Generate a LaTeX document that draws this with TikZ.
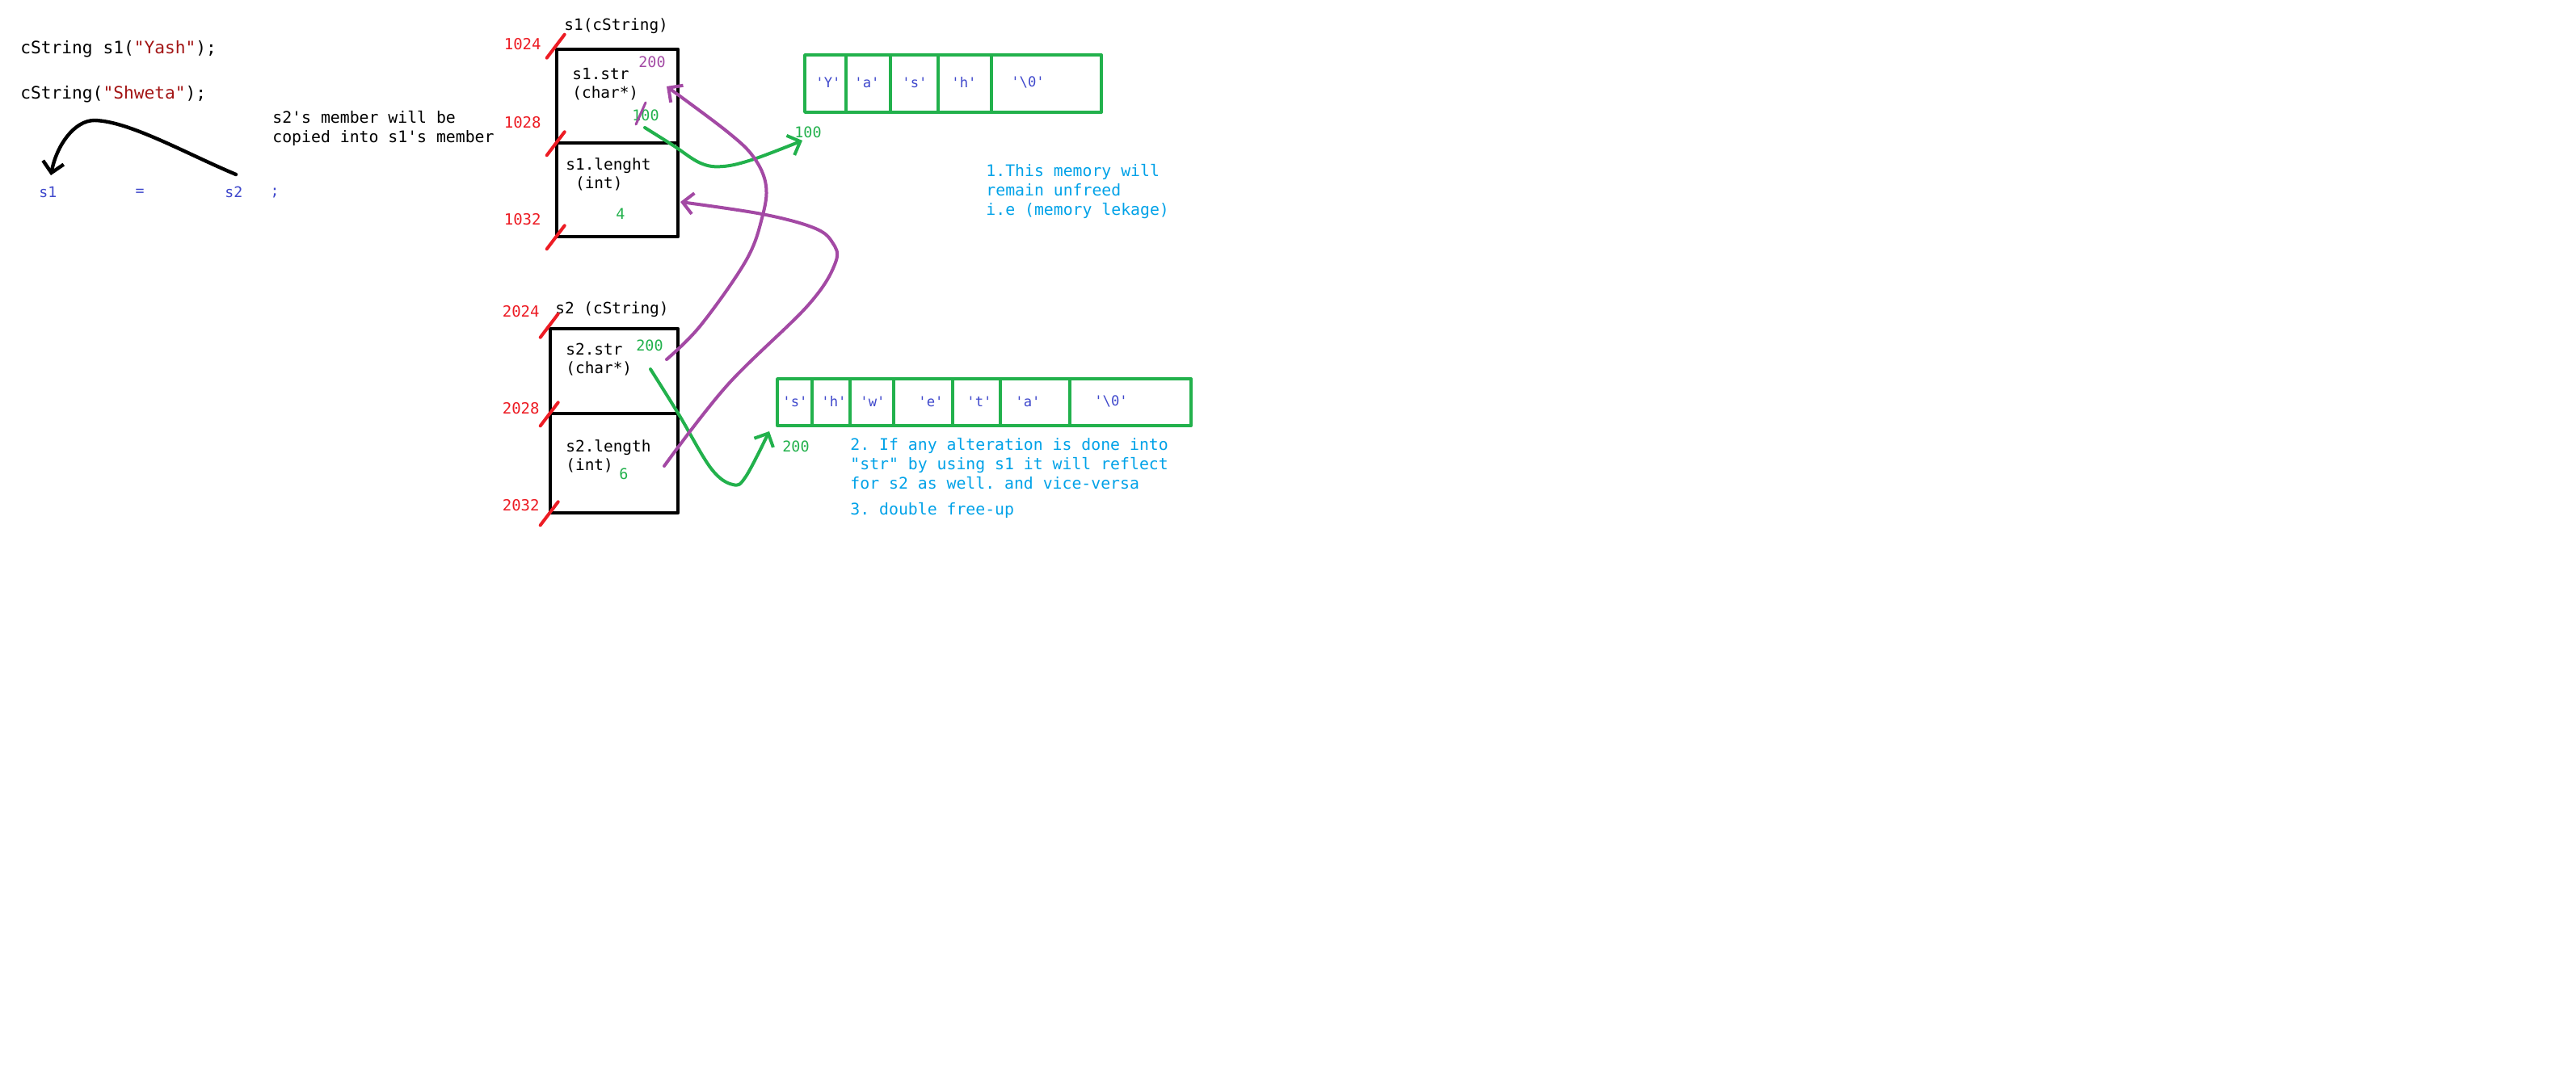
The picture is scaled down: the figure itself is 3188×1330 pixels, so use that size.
\documentclass[tikz,border=0pt]{standalone}
\usepackage{fontspec}
\setmonofont{DejaVu Sans Mono}
\usetikzlibrary{arrows.meta}

\definecolor{pgreen}{HTML}{22B14C}
\definecolor{ppurple}{HTML}{A349A4}
\definecolor{pred}{HTML}{ED1C24}
\definecolor{pblue}{HTML}{00A2E8}
\definecolor{cblue}{HTML}{3F48CC}
\definecolor{strred}{HTML}{A31515}

% little red mark across a box corner, next to its address
\newcommand\memtick[1]{\draw[addrtick] ([shift={(-10,13)}]#1) -- ([shift={(12,-16)}]#1);}

\begin{document}
\begin{tikzpicture}[x=0.5pt, y=-0.5pt, line cap=round, line join=round,
  every node/.style={inner sep=0pt, font=\ttfamily\fontsize{9.7}{11.8}\selectfont},
  membox/.style={draw, line width=2.3pt},
  cell/.style={draw=pgreen, line width=1.9pt},
  code/.style={font=\ttfamily\fontsize{10.6}{13}\selectfont},
  lbl/.style={},
  addr/.style={pred, font=\ttfamily\fontsize{9.5}{11}\selectfont},
  grn/.style={pgreen, font=\ttfamily\fontsize{9.2}{11}\selectfont},
  prp/.style={ppurple, font=\ttfamily\fontsize{9.2}{11}\selectfont},
  chr/.style={cblue, font=\ttfamily\fontsize{8.6}{10}\selectfont},
  var/.style={cblue, font=\ttfamily\fontsize{9.1}{11}\selectfont},
  note/.style={pblue, align=left, font=\ttfamily\fontsize{9.9}{12}\selectfont},
  addrtick/.style={pred, line width=2pt},
  garrow/.style={pgreen, line width=2pt, -{Straight Barb[length=6.5pt,width=13pt]}},
  parrow/.style={ppurple, line width=2pt, -{Straight Barb[length=6.5pt,width=13pt]}}]

  \path[use as bounding box, fill=white] (0,0) rectangle (3188,1330);

  % the code
  \node (code1) [code, anchor=west] at (25,61) {cString s1(\textcolor{strred}{"Yash"});};
  \node (code2) [code, anchor=west] at (25,117) {cString(\textcolor{strred}{"Shweta"});};
  \node (copytxt) [lbl, anchor=west, align=left, font=\ttfamily\fontsize{9.9}{12}\selectfont]
    at (337,159) {s2's member will be\\copied into s1's member};
  \node (v1) [var, anchor=west] at (48,238) {s1};
  \node (veq) [var] at (173,238) {=};
  \node (v2) [var, anchor=west] at (278,238) {s2};
  \node (vend) [var] at (340,239) {;};
  \coordinate (cpfrom) at (292,216);
  \coordinate (cptop) at (117,149);
  \coordinate (cpto) at (63,217);
  \draw[line width=2.2pt, -{Straight Barb[length=6.5pt,width=13pt]}]
    (cpfrom) .. controls (230,190) and (160,150) .. (cptop)
             .. controls (92,149) and (70,180) .. (cpto);

  % s1 in memory
  \node (s1name) [lbl, anchor=west] at (698,32) {s1(cString)};
  \node (s1str) [membox, minimum width=75pt, minimum height=58pt] at (764,119) {};
  \node (s1len) [membox, minimum width=75pt, minimum height=58pt] at (764,235) {};
  \node (a1024) [addr, anchor=east] at (670,55) {1024};
  \node (a1028) [addr, anchor=east] at (670,152) {1028};
  \node (a1032) [addr, anchor=east] at (670,272) {1032};
  \memtick{s1str.north west}
  \memtick{s1str.south west}
  \memtick{s1len.south west}
  \node (s1strlbl) [lbl, anchor=west, align=left] at (708,104) {s1.str\\(char*)};
  \node (s1old) [prp, anchor=west] at (790,77) {200};
  \node (s1ptr) [grn, anchor=west] at (782,143) {100};
  \draw[ppurple, line width=1.5pt] ([shift={(5,11)}]s1ptr.west) -- ([shift={(17,-16)}]s1ptr.west);
  \node (s1lenlbl) [lbl, anchor=west, align=left] at (700,216) {s1.lenght\\\ (int)};
  \node (s1num) [grn] at (768,265) {4};

  % s2 in memory
  \node (s2name) [lbl, anchor=west] at (687,383) {s2 (cString)};
  \node (s2str) [membox, minimum width=79pt, minimum height=52.5pt] at (760,459.5) {};
  \node (s2len) [membox, minimum width=79pt, minimum height=61.5pt] at (760,573.5) {};
  \node (a2024) [addr, anchor=east] at (668,386) {2024};
  \node (a2028) [addr, anchor=east] at (668,506) {2028};
  \node (a2032) [addr, anchor=east] at (668,626) {2032};
  \memtick{s2str.north west}
  \memtick{s2str.south west}
  \memtick{s2len.south west}
  \node (s2strlbl) [lbl, anchor=west, align=left] at (700,445) {s2.str\\(char*)};
  \node (s2ptr) [grn, anchor=west] at (787,428) {200};
  \node (s2lenlbl) [lbl, anchor=west, align=left] at (700,565) {s2.length\\(int)};
  \node (s2num) [grn] at (772,587) {6};

  % the two char arrays
  \foreach \lx/\rx/\tx/\ch [count=\i] in {996/1047/1025/Y, 1047/1102/1073/a, 1102/1161/1132/s,
      1161/1227/1193/h, 1227/1363/1272/\textbackslash 0} {
    \node (ya\i) [cell, minimum width={(\rx-\lx)*0.5pt}, minimum height=35.5pt] at ({(\lx+\rx)/2},103.5) {};
    \node (yc\i) [chr] at (\tx,102) {'\ch'};
  }
  \foreach \lx/\rx/\tx/\ch [count=\i] in {962/1005/984/s, 1005/1052/1032/h, 1052/1106/1080/w,
      1106/1179/1152/e, 1179/1238/1212/t, 1238/1324/1272/a, 1324/1474/1375/\textbackslash 0} {
    \node (sa\i) [cell, minimum width={(\rx-\lx)*0.5pt}, minimum height=29pt] at ({(\lx+\rx)/2},498) {};
    \node (sc\i) [chr] at (\tx,497) {'\ch'};
  }
  \node (ya100) [grn, anchor=west] at (983,164) {100};
  \node (sa200) [grn, anchor=west] at (968,553) {200};

  % pointers
  \coordinate (s1out) at (798,158);
  \coordinate (yashtip) at (993,174);
  \coordinate (s2out) at (805,457);
  \coordinate (shwtip) at (952,534);
  \coordinate (s2sfrom) at (825,445);
  \coordinate (s1sto) at (825,107);
  \coordinate (s2lfrom) at (822,577);
  \coordinate (s1lto) at (842,250);
  \draw[garrow] plot[smooth, tension=0.6] coordinates {(s1out) (833,180) (867,202) (895,206) (933,197) (yashtip)};
  \draw[garrow] plot[smooth, tension=0.6] coordinates {(s2out) (840,513) (880,580) (907,600) (923,590) (shwtip)};
  \draw[parrow] plot[smooth, tension=0.6] coordinates {(s2sfrom) (867,403) (923,323) (943,270) (948,230) (933,195) (900,163) (s1sto)};
  \draw[parrow] plot[smooth, tension=0.6] coordinates {(s2lfrom) (900,477) (1000,378) (1034,325) (1030,300) (1007,282) (943,265) (s1lto)};

  % what goes wrong
  \node (note1) [note, anchor=west] at (1220,237) {1.This memory will\\remain unfreed\\i.e (memory lekage)};
  \node (note2) [note, anchor=west] at (1052,574) {2. If any alteration is done into\\"str" by using s1 it will reflect\\for s2 as well. and vice-versa};
  \node (note3) [note, anchor=west] at (1052,632) {3. double free-up};
\end{tikzpicture}
\end{document}
